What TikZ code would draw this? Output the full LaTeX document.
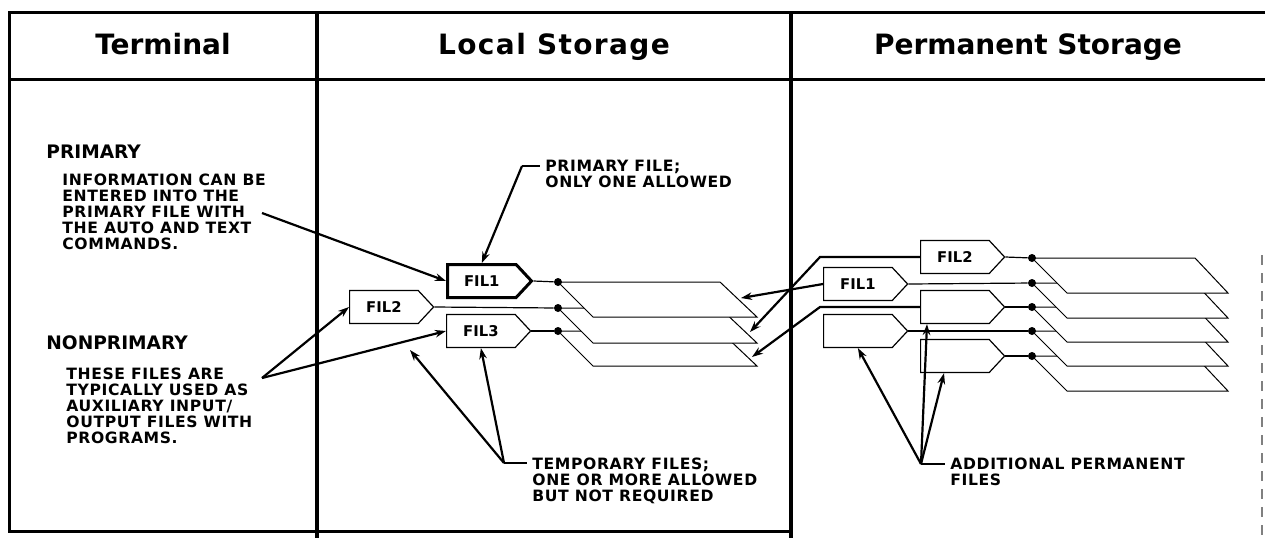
\documentclass[tikz,border=0pt]{standalone}
\usepackage{fontspec}
\setmainfont{DejaVu Sans}
\newfontfamily\notefont[LetterSpace=4]{DejaVu Sans}
\newfontfamily\widefont[LetterSpace=5]{DejaVu Sans}
\usetikzlibrary{shapes.symbols,arrows.meta}
\tikzset{
  frameline/.style={line width=1.5pt},
  divline/.style={line width=1.8pt},
  edgeline/.style={line width=0.9pt, gray, dash pattern=on 5pt off 4pt},
  head/.style={anchor=base, inner sep=0pt, font=\bfseries\fontsize{14}{16}\selectfont},
  title/.style={anchor=north west, inner sep=0pt, font=\bfseries\fontsize{9.3}{10}\selectfont},
  note/.style={anchor=north west, align=left, inner sep=0pt, font=\notefont\bfseries\fontsize{7.8}{8}\selectfont},
  filebox/.style={draw, fill=white, shape=signal, signal to=east, signal pointer angle=94,
    line width=0.6pt, minimum width=42pt, minimum height=16.5pt, inner sep=0pt,
    font=\bfseries\fontsize{7.4}{8}\selectfont},
  primbox/.style={filebox, line width=1.5pt},
  sheet/.style={draw, fill=white, line width=0.5pt},
  wire/.style={line width=0.6pt},
  dot/.style={circle, fill, inner sep=0pt, minimum size=4pt},
  leader/.style={line width=1.1pt, -{Stealth[length=5.5pt,width=3.8pt]}},
  stub/.style={line width=1.1pt, shorten >=2.5pt}
}
\begin{document}
\begin{tikzpicture}[x=0.5pt,y=-0.5pt]
  \useasboundingbox (0,0) rectangle (1265,538);
  \draw[frameline] (1265,12) -- (9,12) -- (9,531) -- (791,531);
  \draw[frameline] (9,79) -- (1265,79);
  \draw[divline] (317,12) -- (317,538);
  \draw[divline] (791,12) -- (791,538);
  \draw[edgeline] (1262,255) -- (1262,538);

  \node[head] (hterm) at (163,54) {Terminal};
  \node[head] (hlocal) at (554,54) {\widefont\bfseries Local Storage};
  \node[head] (hperm) at (1028,54) {Permanent Storage};

  \node[title] (primary) at (46,145) {PRIMARY};
  \node[note] (infotext) at (62,174) {INFORMATION CAN BE\\ENTERED INTO THE\\PRIMARY FILE WITH\\THE AUTO AND TEXT\\COMMANDS.};
  \node[title] (nonprimary) at (46,335) {NONPRIMARY};
  \node[note] (auxtext) at (66,368) {THESE FILES ARE\\TYPICALLY USED AS\\AUXILIARY INPUT/\\OUTPUT FILES WITH\\PROGRAMS.};
  \node[note] (primlabel) at (545,160) {PRIMARY FILE;\\ONLY ONE ALLOWED};
  \node[note] (templabel) at (532,458) {TEMPORARY FILES;\\ONE OR MORE ALLOWED\\BUT NOT REQUIRED};
  \node[note] (addlabel) at (950,458) {ADDITIONAL PERMANENT\\FILES};

  \foreach \t/\n in {331/3,308/2,282/1} {
    \draw[sheet] (558,\t) -- (720,\t) -- (757,{\t+35}) -- (593,{\t+35}) -- cycle;
    \node[dot] (ld\n) at (558,\t) {};
  }
  \foreach \t/\n in {356/c,331/b,307/a,283/1,258/2} {
    \draw[sheet] (1032,\t) -- (1195,\t) -- (1228,{\t+35}) -- (1067,{\t+35}) -- cycle;
    \node[dot] (pd\n) at (1032,\t) {};
  }

  \node[primbox, anchor=west] (lfil1) at (446,281) {FIL1};
  \node[filebox, anchor=west] (lfil2) at (349,307) {FIL2};
  \node[filebox, anchor=west] (lfil3) at (446,331) {FIL3};
  \node[filebox, anchor=west] (pfil2) at (920,257) {FIL2};
  \node[filebox, anchor=west] (pfil1) at (823,284) {FIL1};
  \node[filebox, anchor=west] (pfila) at (920,307) {};
  \node[filebox, anchor=west] (pfilb) at (823,331) {};
  \node[filebox, anchor=west] (pfilc) at (920,356) {};

  \draw[wire] (lfil1.east) -- (ld1);
  \draw[wire] (lfil2.east) -- (ld2);
  \draw[wire] (lfil3.east) -- (ld3);
  \draw[wire] (pfil2.east) -- (pd2);
  \draw[wire] (pfil1.east) -- (pd1);
  \draw[wire] (pfila.east) -- (pda);
  \draw[wire] (pfilb.east) -- (pdb);
  \draw[wire] (pfilc.east) -- (pdc);

  \coordinate (infoend) at (262,213);
  \coordinate (auxend) at (262,378);
  \draw[leader] (infoend) -- (lfil1.west);
  \draw[leader] (auxend) -- (lfil2.west);
  \draw[leader] (auxend) -- (lfil3.west);

  \coordinate (primcorner) at (522,166);
  \draw[stub] (primcorner) -- (primcorner -| primlabel.west);
  \draw[leader] (primcorner) -- (lfil1.north);

  \coordinate (tempcorner) at (504,463);
  \coordinate (temptip) at (410,350);
  \draw[stub] (tempcorner) -- (tempcorner -| templabel.west);
  \draw[leader] (tempcorner) -- (temptip);
  \draw[leader] (tempcorner) -- (lfil3.south);

  \coordinate (addcorner) at (921,464);
  \draw[stub] (addcorner) -- (addcorner -| addlabel.west);
  \draw[leader] (addcorner) -- (pfilb.south);
  \draw[leader] (addcorner) -- ([xshift=3.5pt]pfila.south west);
  \draw[leader] (addcorner) -- ([xshift=12pt]pfilc.south west);

  \coordinate (ltip1) at (741,298);
  \coordinate (ltip2) at (750,332);
  \coordinate (ltip3) at (752,357);
  \draw[leader] (pfil1.west) -- (ltip1);
  \draw[leader] (pfil2.west) -- ++(-100,0) -- (ltip2);
  \draw[leader] (pfila.west) -- ++(-100,0) -- (ltip3);
\end{tikzpicture}
\end{document}
